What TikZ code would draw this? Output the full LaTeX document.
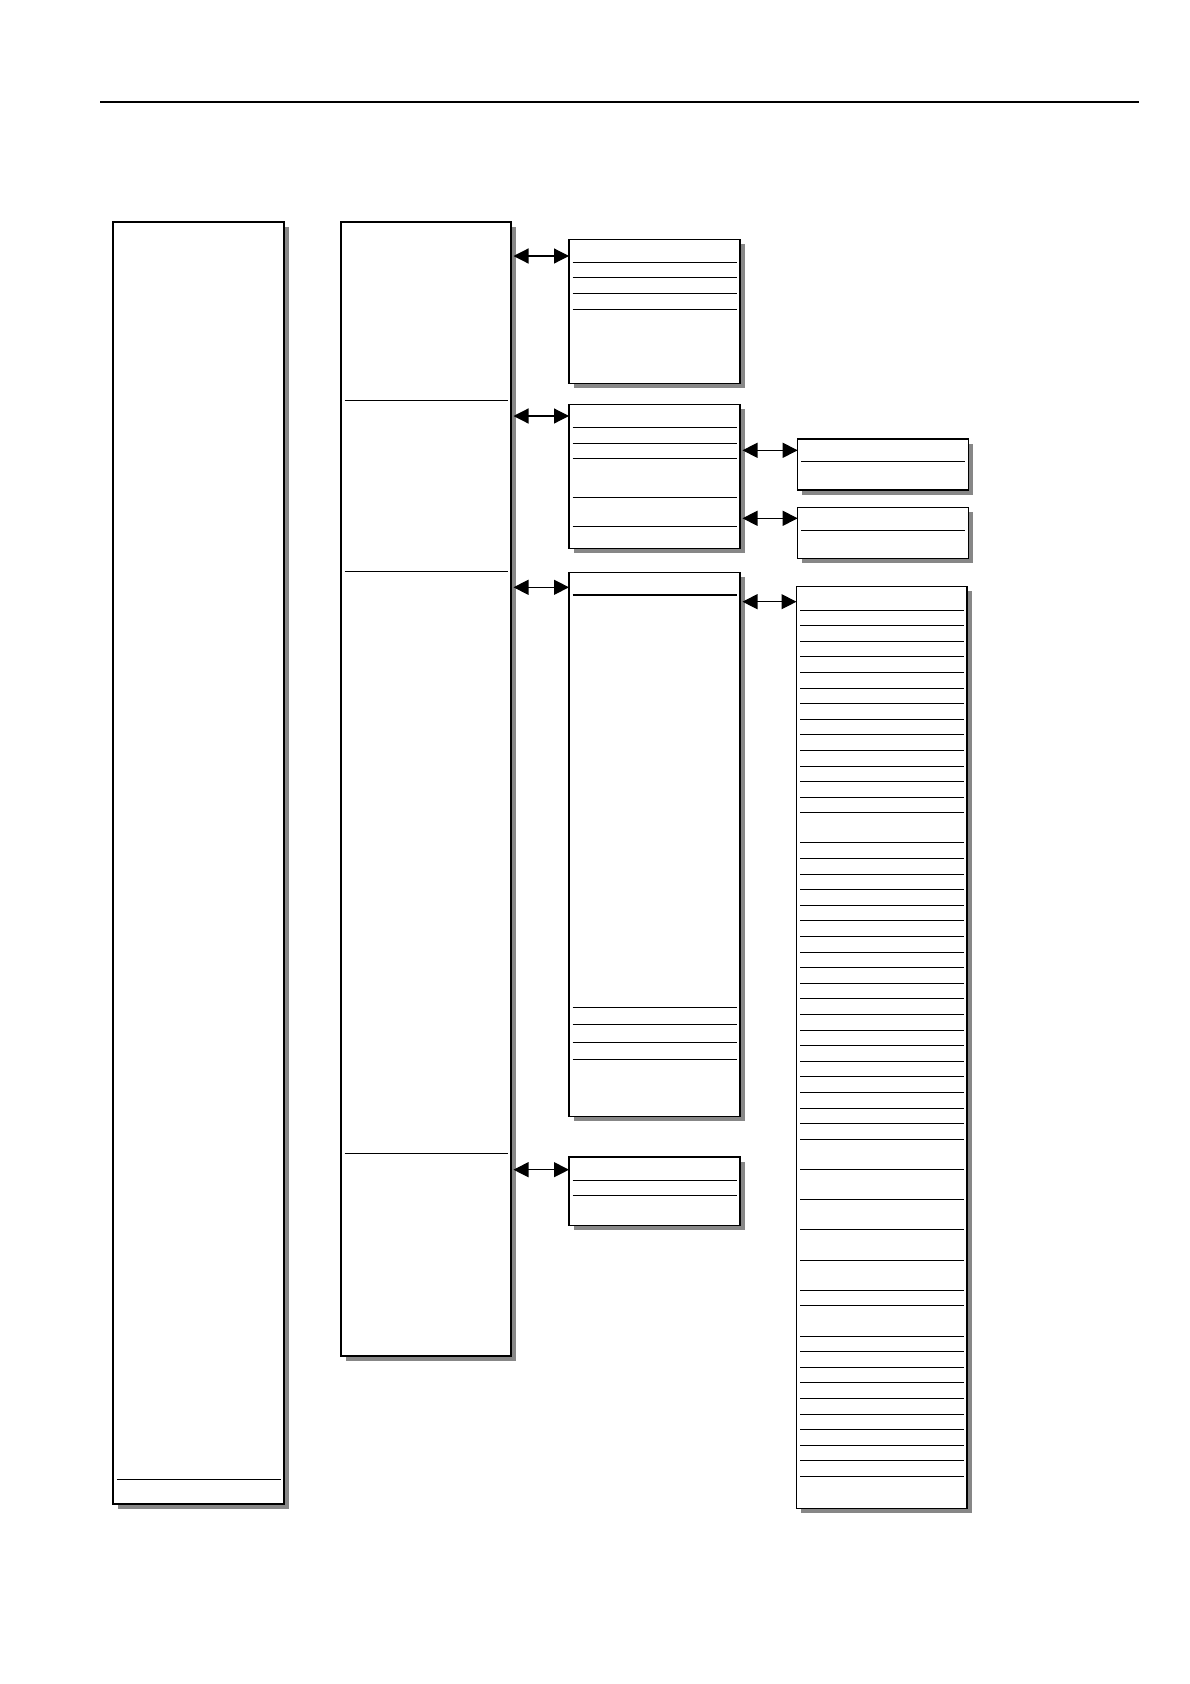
\documentclass[tikz,border=0pt]{standalone}
\usepackage{tikz}
\usetikzlibrary{arrows.meta,calc,shadows}

\newcommand{\rowlines}[2]{%
  \foreach \ry in {#2}{%
    \coordinate (ry) at (0,\ry);
    \draw[rule] ($(#1.west |- ry)+(3.5,0)$) -- ($(#1.east |- ry)+(-3.5,0)$);}}

\begin{document}
\begin{tikzpicture}[
  x=1pt, y=-1pt,
  box/.style={draw=black, line width=1.3pt, fill=white, anchor=north west,
    outer sep=0pt, inner sep=0pt,
    drop shadow={shadow xshift=4.5pt, shadow yshift=-4.5pt, fill=black!47, opacity=1}},
  rule/.style={line width=1.1pt},
  link/.style={{Triangle[length=15pt,width=15pt]}-{Triangle[length=15pt,width=15pt]}, line width=1.2pt},
]
\useasboundingbox (0,0) rectangle (1190,1684);
\draw[line width=1.2pt] (100,102) -- (1139,102);

\node[box, minimum width=171pt, minimum height=1282pt] (a) at (113,222) {};
\node[box, minimum width=170pt, minimum height=1134pt] (b) at (341,222) {};
\node[box, minimum width=171pt, minimum height=144pt] (c1) at (569,239.5) {};
\node[box, minimum width=171pt, minimum height=144pt] (c2) at (569,404.5) {};
\node[box, minimum width=171pt, minimum height=544pt] (c3) at (569,572.7) {};
\node[box, minimum width=171pt, minimum height=68.7pt] (c4) at (569,1157) {};
\node[box, minimum width=170.6pt, minimum height=51pt] (d1) at (797.7,439) {};
\node[box, minimum width=170.6pt, minimum height=51pt] (d2) at (797.7,507.3) {};
\node[box, minimum width=170.5pt, minimum height=921.6pt] (d3) at (796.5,586.7) {};

\rowlines{a}{1479.3}
\rowlines{b}{400.7,571.3,1153.3}
\rowlines{c1}{262.3,277.3,293.3,309.3}
\rowlines{c2}{427.3,443.3,458.3,497.3,526.3}
\rowlines{c3}{595,1007.3,1024.3,1042.3,1059.3}
\rowlines{c4}{1180.3,1195.3}
\rowlines{d1}{461.3}
\rowlines{d2}{530.3}
\rowlines{d3}{610.3,625.3,641.3,656.3,672.3,688.3,703.3,719.3,734.3,750.3,766.3,781.3,797.3,812.3,
  842.3,858.3,874.3,889.3,905.3,920.3,936.3,952.3,967.3,983.3,998.3,1014.3,1030.3,1045.3,1061.3,1076.3,
  1092.3,1108.3,1123.3,1139.3,1169.3,1199.3,1229.3,1260.3,1290.3,1305.3,1336.3,1351.3,1367.3,1382.3,
  1398.3,1414.3,1429.3,1445.3,1460.3,1476.3}

\draw[link] ($(b.east |- c1.north)+(2.5,16.5)$) -- ($(c1.north west)+(0,16.5)$);
\draw[link] ($(b.east |- c2.north)+(2.5,11.5)$) -- ($(c2.north west)+(0,11.5)$);
\draw[link] ($(b.east |- c3.north)+(2.5,14.6)$) -- ($(c3.north west)+(0,14.6)$);
\draw[link] ($(b.east |- c4.north)+(2.5,12.7)$) -- ($(c4.north west)+(0,12.7)$);
\draw[link] ($(c2.east |- d1.north)+(2.5,11.3)$) -- ($(d1.north west)+(0,11.3)$);
\draw[link] ($(c2.east |- d2.north)+(2.5,11)$) -- ($(d2.north west)+(0,11)$);
\draw[link] ($(c3.east |- d3.north)+(2.5,15)$) -- ($(d3.north west)+(0,15)$);
\end{tikzpicture}
\end{document}
